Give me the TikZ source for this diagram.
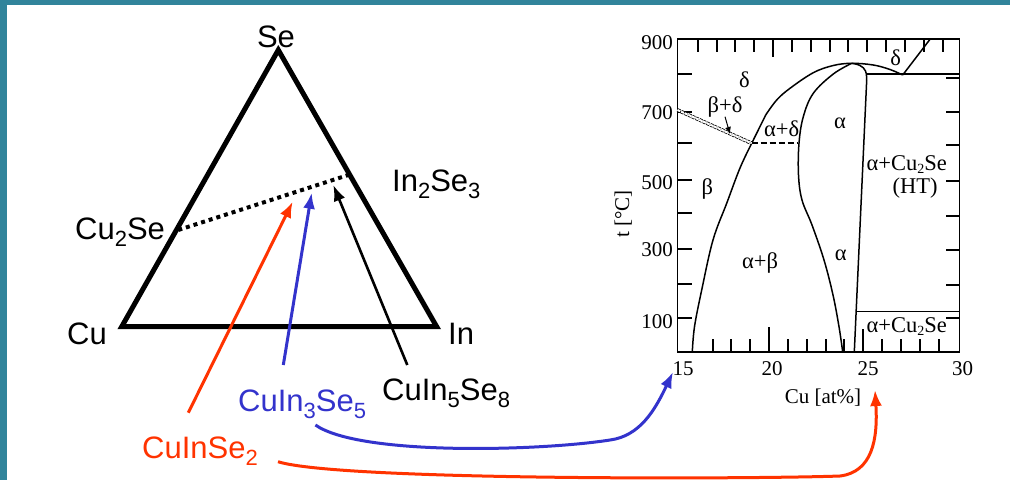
\documentclass[tikz,border=0pt]{standalone}
\usepackage{fontspec}
\setmainfont{Liberation Sans}
\newfontfamily\tms{Liberation Serif}
\usetikzlibrary{arrows.meta}
\definecolor{bandcol}{HTML}{31849B}
\definecolor{myred}{HTML}{FF3300}
\definecolor{myblue}{HTML}{3333CC}
\newcommand\sbs[1]{\raisebox{-7pt}{\fontsize{22}{22}\selectfont #1}}
\newcommand\tsub[1]{\raisebox{-3pt}{\fontsize{14}{14}\selectfont #1}}
\begin{document}
\begin{tikzpicture}[x=1pt,y=-1pt,
  lab/.style={font=\fontsize{31}{31}\selectfont, inner sep=0pt},
  pd/.style={font=\tms\fontsize{21}{21}\selectfont, inner sep=0pt},
  pg/.style={font=\tms\fontsize{22.5}{22.5}\selectfont, inner sep=0pt},
  tri/.style={line width=5pt, line join=miter},
  arr/.style={line width=3pt, -{Latex[length=16pt,width=12pt]}},
  pl/.style={line width=1.5pt},
  tk/.style={line width=2pt},
]
\useasboundingbox (0,0) rectangle (1010,480);
\fill[white] (0,0) rectangle (1010,480);
\fill[bandcol] (0,0) rectangle (1010,5);
\fill[bandcol] (0,0) rectangle (7,480);

% ---------- ternary triangle ----------
\coordinate (Se) at (278.3,50);
\coordinate (Cu) at (121.7,326.7);
\coordinate (In) at (436.7,326.7);
\draw[tri] (Cu) -- (Se) -- (In) -- cycle;

\node[lab, anchor=base] (lSe) at (276,47) {Se};
\node[lab, anchor=base west] (lCu) at (67,344.3) {Cu};
\node[lab, anchor=base west] (lIn) at (448,344.3) {In};
\node[lab, anchor=base west] (lCu2Se) at (75,239.3) {Cu\sbs{2}Se};
\node[lab, anchor=base west] (lIn2Se3) at (392,191.7) {In\sbs{2}Se\sbs{3}};
\node[lab, anchor=base west, text=myblue] (lb) at (238,411.7) {CuIn\sbs{3}Se\sbs{5}};
\node[lab, anchor=base west] (lk) at (382,400) {CuIn\sbs{5}Se\sbs{8}};
\node[lab, anchor=base west, text=myred] (lr) at (142,458.3) {CuInSe\sbs{2}};

% tie line
\coordinate (d1) at (178.3,230);
\coordinate (d2) at (348.3,175);
\draw[line width=4pt, dash pattern=on 4pt off 4pt] (d1) -- (d2);

% straight arrows
\coordinate (r0) at (188.3,412.7); \coordinate (r1) at (292.7,201.7);
\coordinate (b0) at (283.3,365);   \coordinate (b1) at (311.7,192.7);
\coordinate (k0) at (407.3,365);   \coordinate (k1) at (333.3,185);
\draw[arr, myred] (r0) -- (r1);
\draw[arr, myblue] (b0) -- (b1);
\draw[arr, black, line width=2.6pt] (k0) -- (k1);

% curved arrows
\coordinate (bc0) at (315.4,425);
\coordinate (bcm) at (610,440);
\coordinate (bc1) at (673,372);
\draw[arr, myblue] (bc0) .. controls (360,456) and (540,451) .. (bcm)
   .. controls (640,436) and (655,410) .. (bc1);
\coordinate (rc0) at (278,461.7);
\coordinate (rcm) at (840,476);
\coordinate (rc1) at (875,390);
\draw[arr, myred] (rc0) .. controls (340,481) and (760,479) .. (rcm)
   .. controls (872,472) and (878,440) .. (rc1);

% ---------- phase diagram ----------
\coordinate (pdA) at (677.5,39.3);
\coordinate (pdB) at (959.5,352);
\draw[line width=1.8pt] (pdA) rectangle (pdB);

% top ticks
\foreach \i in {16,...,29}{
  \pgfmathsetmacro{\xx}{677.5+(\i-15)*18.83+1.5}
  \ifnum\i=20
    \draw[tk] (\xx,39.3) -- (\xx,57.3);
  \else
    \draw[tk] (\xx,39.3) -- (\xx,51.7);
  \fi
}
% bottom ticks
\foreach \i in {17,...,29}{
  \pgfmathsetmacro{\xx}{677.5+(\i-15)*18.83-2.5}
  \ifnum\i=20
    \draw[tk] (\xx,352) -- (\xx,327);
  \else\ifnum\i=25
    \draw[tk] (\xx,352) -- (\xx,329);
  \else
    \draw[tk] (\xx,352) -- (\xx,339);
  \fi\fi
}
% left / right ticks
\foreach \yy in {74,111.7,143.3,180,213,249,284,318.3}{
  \draw[tk] (677.5,\yy) -- (691.5,\yy);
}
\foreach \yy in {78,111.7,145,181,216,250,285,318.3}{
  \draw[tk] (959.5,\yy) -- (945.5,\yy);
}

% axis labels
\node[pd, anchor=east] (y900) at (673,42.7) {900};
\node[pd, anchor=east] (y700) at (673,112.7) {700};
\node[pd, anchor=east] (y500) at (673,182.7) {500};
\node[pd, anchor=east] (y300) at (673,250) {300};
\node[pd, anchor=east] (y100) at (673,321.7) {100};
\node[pd] (x15) at (683,369) {15};
\node[pd] (x20) at (772,369) {20};
\node[pd] (x25) at (868,369) {25};
\node[pd] (x30) at (962.5,369) {30};
\node[pd] (xlab) at (823,398) {Cu [at\%]};
\node[pd, rotate=90] (ylab) at (623.3,214) {t [°C]};

% phase boundaries
\draw[pl] plot[smooth, tension=0.6] coordinates {(751.7,143.3) (740,168) (726.7,203.3) (713,240) (701.7,290) (694.5,326.7) (692.3,352)};
\draw[pl] (751.7,143.3) -- (765.7,115);
\draw[pl] plot[smooth, tension=0.6] coordinates {(765.7,115) (776.7,100) (790,88.3) (813.3,72.7) (833.3,65.5) (851.7,63.3) (873.3,65) (890,69.5) (902.7,75)};
\draw[pl] (902.7,75) -- (930,39.3);
\draw[pl] (866.7,74) -- (959.5,74);
\draw[pl] plot[smooth, tension=0.6] coordinates {(851.7,63.3) (833.3,74) (813.3,93.3) (803.3,116.7) (799,143.3) (798.5,175) (802,200) (812,225) (824,260) (833,295) (839,326.7) (842.7,352)};
\draw[pl] plot[smooth, tension=0.7] coordinates {(851.7,63.3) (860,65.5) (865.5,71) (866.7,80)};
\draw[pl] (866.7,80) -- (854.3,352);
\draw[pl] (856,311.7) -- (959.5,311.7);
\draw[line width=0.8pt, double distance=2pt, dash pattern=on 3pt off 1pt] (677.5,110) -- (751.7,143.3);
\draw[line width=1.8pt, dash pattern=on 6pt off 3pt] (751.7,143.3) -- (798.3,143.3);

% phase labels
\node[pg] (pDelta) at (744.3,79.3) {δ};
\node[pg] (pBD) at (725,106.7) {β+δ};
\coordinate (pa0) at (725,116.7);
\coordinate (pa1) at (730,134);
\draw[line width=1pt, -{Latex[length=7pt,width=6pt]}] (pa0) -- (pa1);
\node[pg] (pAD) at (781.7,128.3) {α+δ};
\node[pg] (pA1) at (840,123.3) {α};
\node[pg] (pD2) at (895.7,57.3) {δ};
\node[pg] (pACs) at (906.7,164.3) {α+Cu\tsub{2}Se};
\node[pg] (pHT) at (915,188.3) {(HT)};
\node[pg] (pB) at (707.3,189.3) {β};
\node[pg] (pAB) at (760,263.3) {α+β};
\node[pg] (pA2) at (840.7,255) {α};
\node[pg] (pACs2) at (906.7,326.7) {α+Cu\tsub{2}Se};
\end{tikzpicture}
\end{document}
